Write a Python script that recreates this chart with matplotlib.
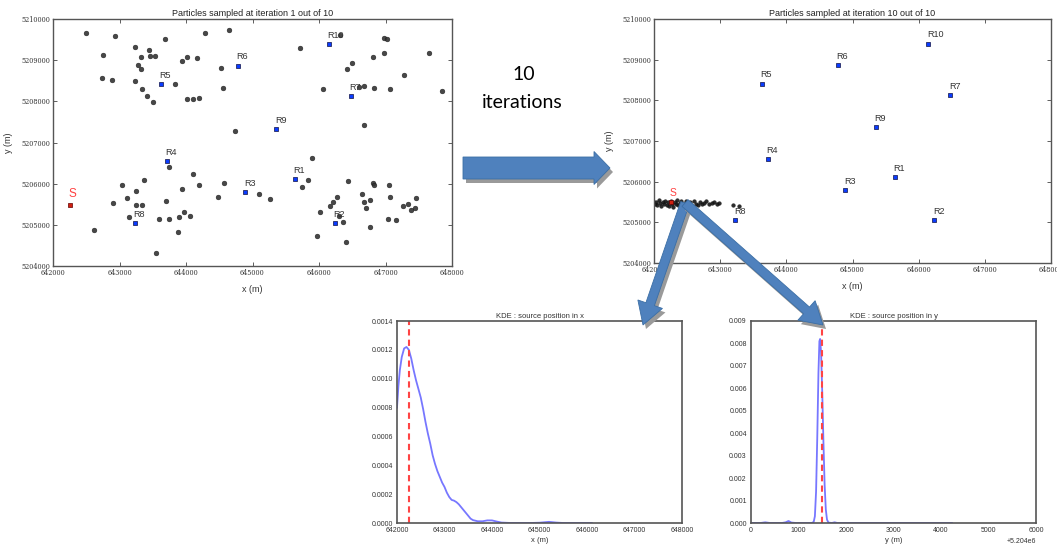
import matplotlib
matplotlib.use('Agg')
import matplotlib.pyplot as plt
import numpy as np
from matplotlib.patches import FancyArrow
from matplotlib.ticker import ScalarFormatter, MultipleLocator

# receivers and source
rec_names = ['R1', 'R2', 'R3', 'R4', 'R5', 'R6', 'R7', 'R8', 'R9', 'R10']
rec_x = [645638, 646234, 644892, 643716, 643625, 644780, 646476, 643231, 645356, 646148]
rec_y = [5206112, 5205048, 5205801, 5206554, 5208412, 5208870, 5208134, 5205048, 5207332, 5209394]
src_x, src_y = 642255, 5205490

# particles at iteration 1
iter1_x = [642492, 642753, 642934, 642733, 642889, 643230, 643280, 643316, 643321, 643446,
           643456, 643536, 643677, 643235, 643341, 643421, 643511, 643833, 643938, 644008,
           644013, 644099, 644189, 644159, 644285, 644521, 644551, 644646, 644741,
           645721, 646318, 646499, 646418, 646057, 646594, 646675, 646820, 646815, 646971,
           647021, 646981, 647061, 647272, 647649, 647849, 646675,
           642613, 642909, 643034, 643115, 643145, 643250, 643250, 643341, 643361, 643597,
           643697, 643742, 643737, 643888, 643878, 643938, 643968, 644064, 644109, 644189,
           643556, 644480, 644571, 645098, 645264, 645751, 645836, 645896,
           645967, 646017, 646167, 646218, 646278, 646308, 646368, 646408, 646443, 646644,
           646680, 646705, 646770, 646770, 646805, 646820, 647046, 647071, 647031, 647157,
           647257, 647332, 647382, 647442, 647452]
iter1_y = [5209651, 5209124, 5209586, 5208557, 5208516, 5209311, 5208873, 5208776, 5209068, 5209246,
           5209100, 5209100, 5209522, 5208500, 5208297, 5208127, 5207981, 5208411, 5208970, 5209084,
           5208046, 5208062, 5208070, 5209043, 5209668, 5208800, 5208322, 5209732, 5207284,
           5209295, 5209619, 5208922, 5208784, 5208289, 5208354, 5208378, 5208314, 5209084, 5209530,
           5209505, 5209165, 5208289, 5208638, 5209181, 5208257, 5207422,
           5204868, 5205532, 5205962, 5205646, 5205184, 5205484, 5205816, 5205484, 5206084, 5205143,
           5205581, 5206400, 5205143, 5205192, 5204835, 5205865, 5205306, 5205208, 5206246, 5205978,
           5204316, 5205678, 5206019, 5205760, 5205622, 5205930, 5206084, 5206627,
           5204738, 5205306, 5205451, 5205565, 5205678, 5205224, 5205062, 5204576, 5206059, 5205743,
           5205549, 5205403, 5205597, 5204949, 5206019, 5205962, 5205962, 5205678, 5205151, 5205111,
           5205460, 5205500, 5205370, 5205419, 5205646]

# particles at iteration 10
iter10_x = [641990, 642010, 642030, 642050, 642070, 642090, 642110, 642130, 642150, 642170,
            642190, 642210, 642230, 642250, 642270, 642290, 642310, 642330, 642350, 642370,
            642390, 642410, 642430, 642450, 642480, 642510, 642540, 642570, 642600, 642630,
            642660, 642690, 642720, 642750, 642790, 642830, 642870, 642910, 642950, 642980,
            643190, 643290]
iter10_y = [5205520, 5205450, 5205490, 5205420, 5205540, 5205470, 5205400, 5205510, 5205450, 5205530,
            5205430, 5205490, 5205410, 5205520, 5205460, 5205380, 5205500, 5205440, 5205540, 5205420,
            5205480, 5205520, 5205400, 5205460, 5205530, 5205440, 5205490, 5205410, 5205520, 5205460,
            5205430, 5205500, 5205450, 5205480, 5205520, 5205440, 5205470, 5205500, 5205450, 5205480,
            5205430, 5205400]

# KDE curves
kde_x_pos = [642000, 642030, 642060, 642100, 642150, 642200, 642250, 642300, 642350, 642400,
             642450, 642500, 642550, 642600, 642650, 642700, 642750, 642800, 642850, 642900,
             642950, 643000, 643050, 643100, 643150, 643200, 643250, 643300, 643350, 643400,
             643450, 643500, 643550, 643600, 643700, 643800, 643900, 644000, 644100, 644200,
             644400, 644800, 645000, 645200, 645350, 645500, 646100]
kde_x_dens = [0.00080, 0.00095, 0.00106, 0.00115, 0.00121, 0.00122, 0.00120, 0.00114, 0.00106, 0.00099,
              0.00093, 0.00087, 0.00079, 0.00070, 0.00062, 0.00055, 0.00047, 0.00041, 0.00036, 0.00032,
              0.00028, 0.00025, 0.00021, 0.00018, 0.00016, 0.000155, 0.000145, 0.00013, 0.00011, 0.00009,
              0.00007, 0.00005, 0.00003, 0.00002, 0.000012, 0.000012, 0.000018, 0.000018, 0.00001, 0.000003,
              0.0, 0.0, 0.000002, 0.000008, 0.000003, 0.0, 0.0]

y_base = 5204000
kde_y_pos = [0, 200, 300, 400, 650, 730, 790, 850, 950, 1280, 1320, 1345, 1370, 1395, 1420,
             1440, 1455, 1475, 1500, 1525, 1550, 1575, 1600, 1630, 1700, 1760, 1820, 4230]
kde_y_dens = [0, 0, 0.00003, 0, 0, 0.00003, 0.00009, 0.00002, 0, 0, 0.00005, 0.0003, 0.0014, 0.0038, 0.0067,
              0.0081, 0.0082, 0.0076, 0.0058, 0.0036, 0.0017, 0.0006, 0.00015, 0.00002, 0, 0.00003, 0, 0]

W, H = 1057, 548
fig = plt.figure(figsize=(W / 100, H / 100), dpi=100)


def px_axes(left, top, right, bottom):
    return fig.add_axes([left / W, 1 - bottom / H, (right - left) / W, (bottom - top) / H])


def particle_map(ax, px, py, title, part_size, part_color, s_size):
    ax.scatter(px, py, s=part_size, color=part_color, alpha=0.9, edgecolors='#111111',
               linewidths=0.3, zorder=2)
    ax.scatter(rec_x, rec_y, s=12, marker='s', color='#0a3cff', edgecolors='#111144',
               linewidths=0.5, zorder=3)
    for n, x, y in zip(rec_names, rec_x, rec_y):
        ax.annotate(n, (x, y), xytext=(-1, 3), textcoords='offset points', ha='left',
                    va='bottom', fontsize=6.5, color='#333333', family='Liberation Sans')
    ax.scatter([src_x], [src_y], s=12, marker='s', color='#d02010', edgecolors='#600000',
               linewidths=0.5, zorder=4)
    ax.annotate('S', (src_x, src_y), xytext=(-1, 3), textcoords='offset points', ha='left',
                va='bottom', fontsize=s_size, color='#ff4040', family='Liberation Sans')
    ax.set_xlim(642000, 648000)
    ax.set_ylim(5204000, 5210000)
    ax.xaxis.set_major_locator(MultipleLocator(1000))
    ax.yaxis.set_major_locator(MultipleLocator(1000))
    ax.ticklabel_format(useOffset=False, style='plain')
    ax.tick_params(direction='in', top=True, right=True, length=3, width=0.6, color='#444444',
                   labelsize=4.7, pad=2)
    for lab in ax.get_xticklabels() + ax.get_yticklabels():
        lab.set_family('DejaVu Serif')
        lab.set_color('#333333')
    for sp in ax.spines.values():
        sp.set_color('#555555')
        sp.set_linewidth(1.0)
    ax.set_title(title, fontsize=6.5, family='Liberation Sans', color='#222222', pad=2)
    ax.set_xlabel('x (m)', fontsize=6.5, family='Liberation Sans', color='#333333')
    ax.set_ylabel('y (m)', fontsize=6.5, family='Liberation Sans', color='#333333')
    ax.yaxis.set_label_coords(-0.100, 0.5)
    ax.xaxis.set_label_coords(0.5, -0.077)


ax1 = px_axes(53, 19, 452, 266)
particle_map(ax1, iter1_x, iter1_y, 'Particles sampled at iteration 1 out of 10', 12, '#333333', 8.5)

ax2 = px_axes(654, 19, 1051, 263)
particle_map(ax2, iter10_x, iter10_y, 'Particles sampled at iteration 10 out of 10', 7, '#151515', 7.5)


def kde_panel(ax, title, xlabel):
    ax.set_title(title, fontsize=5.5, family='Liberation Sans', color='#333333', pad=2)
    ax.set_xlabel(xlabel, fontsize=5.5, family='Liberation Sans', color='#333333', labelpad=2)
    ax.tick_params(length=0, labelsize=5, labelcolor='#333333', pad=3)
    for lab in ax.get_xticklabels() + ax.get_yticklabels():
        lab.set_family('Liberation Sans')
    for sp in ax.spines.values():
        sp.set_color('#555555')
        sp.set_linewidth(1.2)


ax3 = px_axes(397, 321, 682, 523)
ax3.plot(kde_x_pos, kde_x_dens, color='#7777ff', lw=1.3)
ax3.axvline(src_x, color='#ff4444', lw=1.5, ls=(0, (3, 2)))
ax3.set_xlim(642000, 648000)
ax3.set_ylim(0, 0.0014)
ax3.xaxis.set_major_locator(MultipleLocator(1000))
ax3.yaxis.set_major_locator(MultipleLocator(0.0002))
ax3.ticklabel_format(useOffset=False, style='plain')
kde_panel(ax3, 'KDE : source position in x', 'x (m)')

ax4 = px_axes(751, 321, 1036, 523)
ax4.plot(np.array(kde_y_pos) + y_base, kde_y_dens, color='#7777ff', lw=1.3)
ax4.axvline(src_y + 10, color='#ff4444', lw=1.5, ls=(0, (3, 2)))
ax4.set_xlim(5204000, 5210000)
ax4.set_ylim(0, 0.009)
ax4.xaxis.set_major_locator(MultipleLocator(1000))
ax4.yaxis.set_major_locator(MultipleLocator(0.001))
ax4.xaxis.set_major_formatter(ScalarFormatter(useOffset=y_base))
kde_panel(ax4, 'KDE : source position in y', 'y (m)')
ax4.xaxis.get_offset_text().set_fontsize(5)
ax4.xaxis.get_offset_text().set_family('Liberation Sans')

# overlay for arrows and text
ov = fig.add_axes([0, 0, 1, 1], zorder=10)
ov.set_xlim(0, W)
ov.set_ylim(H, 0)
ov.set_facecolor('none')
ov.axis('off')

blue = '#4f81bd'
shadow = '#9a9a9a'
ov.add_patch(FancyArrow(466, 172, 147, 0, width=22, head_width=33, head_length=16,
                        length_includes_head=True, color=shadow, lw=0))
ov.add_patch(FancyArrow(463, 168, 147, 0, width=22, head_width=33, head_length=16,
                        length_includes_head=True, color=blue, ec='#3b6ea5', lw=0.6))
for tx, ty in [(643, 325), (823, 325)]:
    ov.add_patch(FancyArrow(688, 207, tx - 685, ty - 203, width=9, head_width=26,
                            head_length=22, length_includes_head=True, color=shadow, lw=0))
    ov.add_patch(FancyArrow(685, 203, tx - 685, ty - 203, width=9, head_width=26,
                            head_length=22, length_includes_head=True, color=blue,
                            ec='#3b6ea5', lw=0.6))

ov.text(524, 74, '10', fontsize=14, family='Lato', ha='center', va='center', color='black')
ov.text(522, 103, 'iterations', fontsize=14, family='Lato', ha='center', va='center',
        color='black')

fig.savefig('out.png', dpi=100)
